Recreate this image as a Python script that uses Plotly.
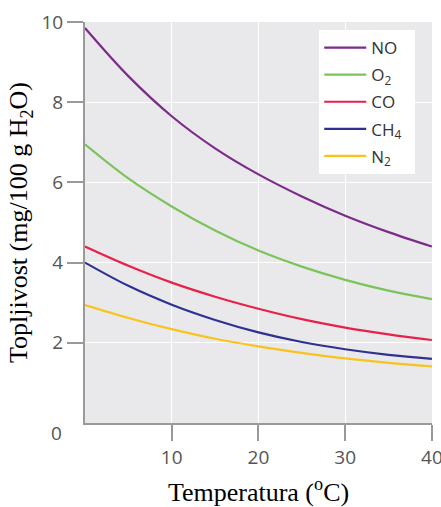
import plotly.graph_objects as go

# temperature (degC) and solubility (mg / 100 g H2O)
temperature = [0, 5, 10, 15, 20, 25, 30, 35, 40]
no_vals = [9.85, 8.65, 7.65, 6.85, 6.2, 5.65, 5.17, 4.76, 4.4]
o2_vals = [6.95, 6.1, 5.4, 4.8, 4.3, 3.9, 3.57, 3.3, 3.09]
co_vals = [4.4, 3.92, 3.5, 3.15, 2.85, 2.59, 2.38, 2.21, 2.07]
ch4_vals = [4.0, 3.42, 2.95, 2.57, 2.26, 2.02, 1.84, 1.7, 1.6]
n2_vals = [2.94, 2.62, 2.34, 2.1, 1.91, 1.75, 1.61, 1.5, 1.41]

series = [
    ("NO", no_vals, "#7d2b8b"),
    ("O<sub>2</sub>", o2_vals, "#7cc35a"),
    ("CO", co_vals, "#e8214b"),
    ("CH<sub>4</sub>\u00a0\u00a0", ch4_vals, "#2f3191"),  # padding widens the legend box
    ("N<sub>2</sub>", n2_vals, "#f8c31c"),
]

x_ticks = [10, 20, 30, 40]
y_ticks = [2, 4, 6, 8, 10]

tick_font = dict(family="Open Sans", size=19, color="#555")
title_font = dict(family="Liberation Serif", size=26, color="black")

fig = go.Figure()

for i, (name, vals, color) in enumerate(series):
    fig.add_trace(
        go.Scatter(
            x=temperature,
            y=vals,
            mode="lines",
            name=name,
            legendgroup=str(i),
            line=dict(color=color, width=2.2, shape="spline", smoothing=1.0),
        )
    )

# origin label sits a little below the axis corner
fig.add_annotation(
    x=0, y=0, xref="x", yref="y",
    text="0", showarrow=False,
    xanchor="right", yanchor="middle",
    xshift=-21, yshift=-10,
    font=tick_font,
)

fig.update_layout(
    width=441,
    height=507,
    paper_bgcolor="white",
    plot_bgcolor="#e9e9ec",
    margin=dict(l=85, r=9, t=22, b=84),
    showlegend=True,
    legend=dict(
        x=0.675,
        y=0.98,
        xanchor="left",
        yanchor="top",
        bgcolor="white",
        font=dict(family="Open Sans", size=17, color="#333"),
        tracegroupgap=2,
        itemwidth=42,
    ),
)

fig.update_xaxes(
    range=[0, 40.01],
    tickvals=x_ticks,
    ticks="outside",
    ticklen=16,
    tickwidth=1.5,
    tickcolor="#999",
    tickfont=tick_font,
    ticklabeloverflow="allow",
    automargin=False,
    showline=True,
    linecolor="#9a9a9a",
    linewidth=2,
    showgrid=True,
    gridcolor="white",
    gridwidth=1.2,
    zeroline=False,
    title=dict(text="Temperatura (<sup>o</sup>C)", font=title_font, standoff=23),
)

fig.update_yaxes(
    range=[0, 10],
    tickvals=y_ticks,
    ticks="outside",
    ticklen=16,
    tickwidth=1.5,
    tickcolor="#999",
    tickfont=tick_font,
    automargin=False,
    showline=True,
    linecolor="#9a9a9a",
    linewidth=2,
    showgrid=True,
    gridcolor="white",
    gridwidth=1.2,
    zeroline=False,
    title=dict(text="Topljivost (mg/100 g H<sub>2</sub>O)", font=title_font, standoff=6),
)

# the page body has a default margin; drop it so the figure fills the window
fig.write_html(
    "out.html",
    config={"displayModeBar": False},
    post_script="document.body.style.margin = '0';",
)
